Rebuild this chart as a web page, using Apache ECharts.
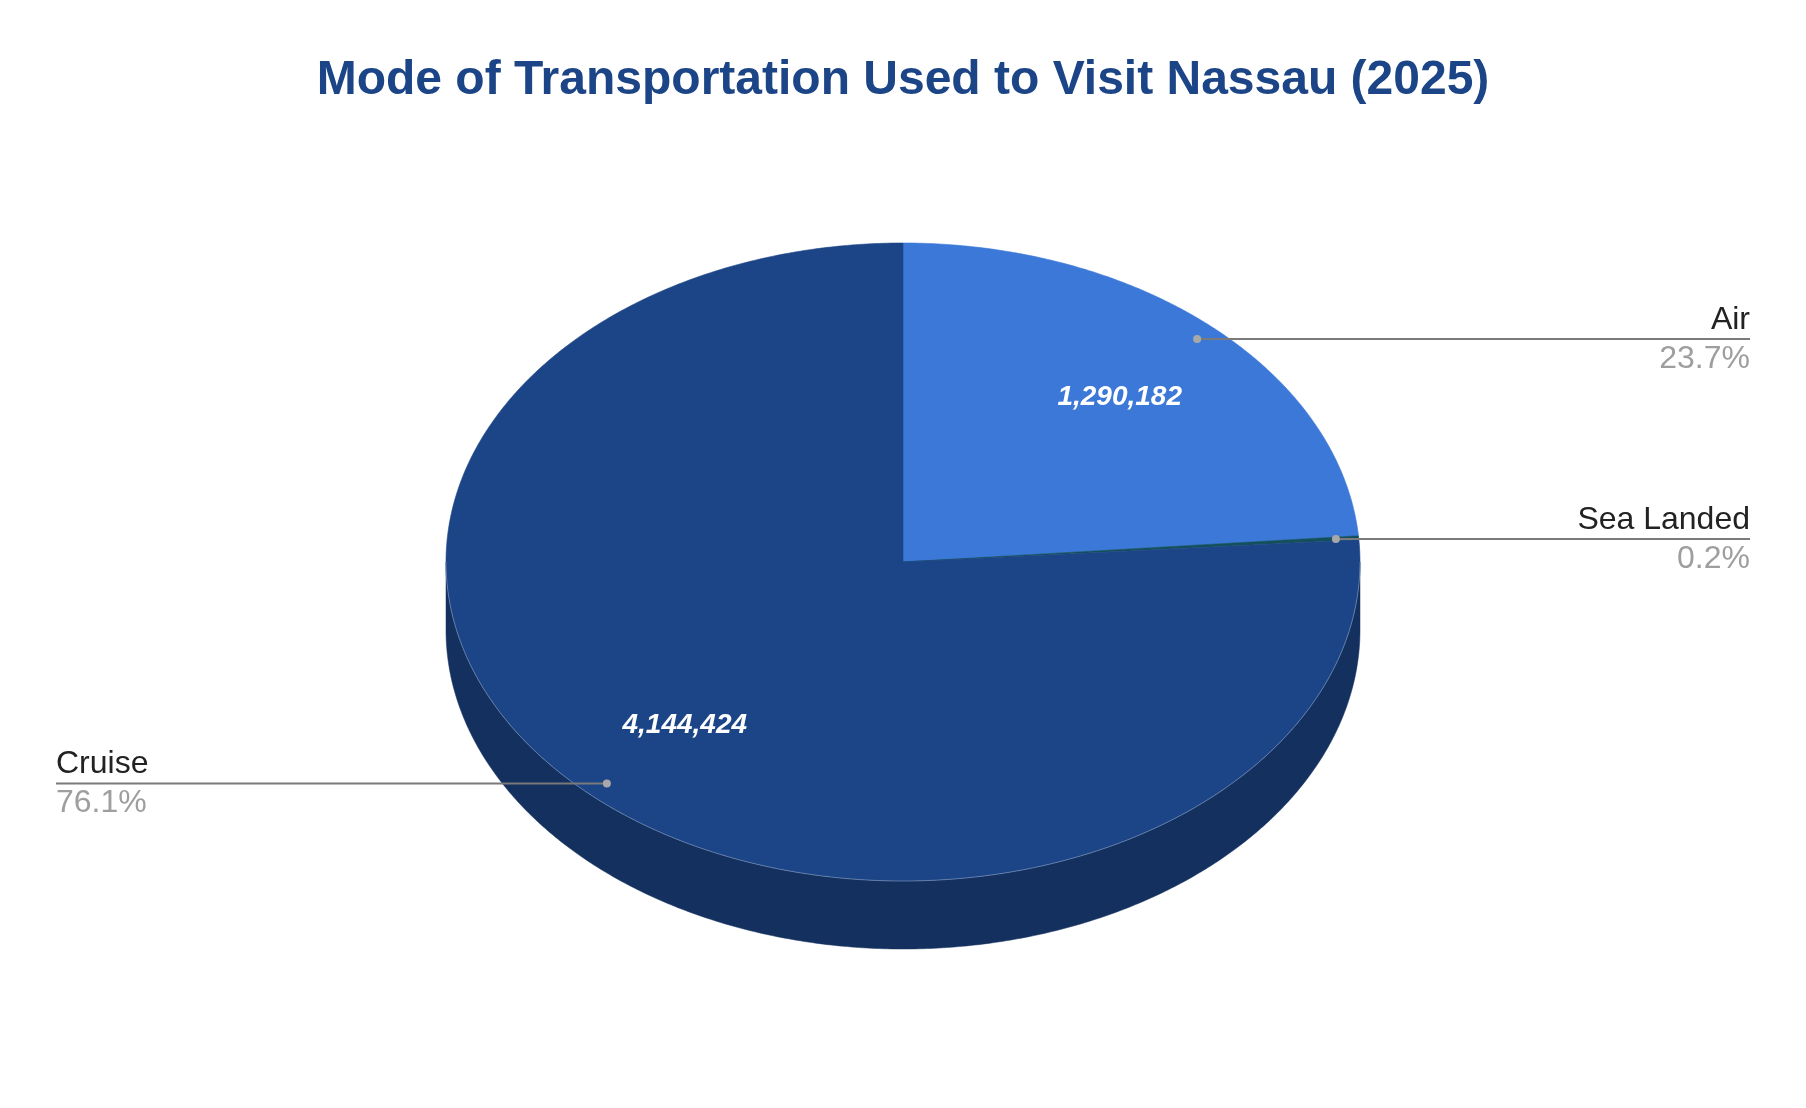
<!DOCTYPE html>
<html>
<head>
<meta charset="utf-8">
<script src="https://cdn.jsdelivr.net/npm/echarts@6/dist/echarts.min.js"></script>
<style>
  html, body { margin: 0; padding: 0; background: #ffffff; }
  #chart { width: 1806px; height: 1108px; }
</style>
</head>
<body>
<div id="chart"></div>
<script>
// ---- data ----
const categories = ['Air', 'Sea Landed', 'Cruise'];
const visitors = [1290182, 11000, 4144424];
const chartTitle = 'Mode of Transportation Used to Visit Nassau (2025)';

// ---- style / layout ----
const sliceColors = ['#3c78d8', '#134f5c', '#1c4587'];
const FONT = '"Liberation Sans", Arial, sans-serif';
const PIE = { cx: 903, cy: 562, rx: 457, ry: 319, depth: 68 };
const LABEL_RIGHT_X = 1750, LABEL_LEFT_X = 56;

function darken(hex, f) {
  const n = parseInt(hex.slice(1), 16);
  const r = Math.round(((n >> 16) & 255) * f);
  const g = Math.round(((n >> 8) & 255) * f);
  const b = Math.round((n & 255) * f);
  return 'rgb(' + r + ',' + g + ',' + b + ')';
}

function arcPoints(a0, a1, dy) {
  const pts = [];
  const steps = Math.max(2, Math.ceil(Math.abs(a1 - a0) / (Math.PI / 360)));
  for (let k = 0; k <= steps; k++) {
    const a = a0 + (a1 - a0) * k / steps;
    pts.push([PIE.cx + PIE.rx * Math.cos(a), PIE.cy + PIE.ry * Math.sin(a) + dy]);
  }
  return pts;
}

const chart = echarts.init(document.getElementById('chart'), null, { renderer: 'canvas' });

function renderItem(params, api) {
  const i = params.dataIndex;
  const total = visitors.reduce((s, v) => s + v, 0);
  let before = 0;
  for (let k = 0; k < i; k++) before += visitors[k];
  const share = visitors[i] / total;
  const start = -Math.PI / 2 + 2 * Math.PI * before / total;
  const end = start + 2 * Math.PI * share;
  const mid = (start + end) / 2;
  const color = sliceColors[i % sliceColors.length];
  const children = [];

  // side wall (front half only)
  const lo = Math.max(start, 0), hi = Math.min(end, Math.PI);
  if (lo < hi) {
    const topArc = arcPoints(lo, hi, 0);
    const botArc = arcPoints(hi, lo, PIE.depth);
    children.push({
      type: 'polygon', z2: 1,
      shape: { points: topArc.concat(botArc) },
      style: { fill: darken(color, 0.7), stroke: darken(color, 0.7), lineWidth: 0.5 }
    });
    children.push({
      type: 'polyline', z2: 3,
      shape: { points: topArc },
      style: { stroke: 'rgba(255,255,255,0.28)', lineWidth: 1, fill: null }
    });
  }

  // top face
  children.push({
    type: 'polygon', z2: 2,
    shape: { points: [[PIE.cx, PIE.cy]].concat(arcPoints(start, end, 0)) },
    style: { fill: color, stroke: color, lineWidth: 0.6 }
  });

  // inner value label
  if (share > 0.05) {
    children.push({
      type: 'text', z2: 10,
      x: PIE.cx + 0.7 * PIE.rx * Math.cos(mid),
      y: PIE.cy + 0.7 * PIE.ry * Math.sin(mid),
      style: {
        text: visitors[i].toLocaleString('en-US'),
        fill: '#ffffff',
        font: 'italic bold 28px ' + FONT,
        align: 'center', verticalAlign: 'middle'
      }
    });
  }

  // outer label with leader line
  const dx = PIE.cx + 0.95 * PIE.rx * Math.cos(mid);
  const dy = PIE.cy + 0.95 * PIE.ry * Math.sin(mid);
  const right = Math.cos(mid) >= 0;
  const ex = right ? LABEL_RIGHT_X : LABEL_LEFT_X;
  children.push({
    type: 'line', z2: 11,
    shape: { x1: dx, y1: dy, x2: ex, y2: dy },
    style: { stroke: '#7a7a7a', lineWidth: 2 }
  });
  children.push({
    type: 'circle', z2: 12,
    shape: { cx: dx, cy: dy, r: 4 },
    style: { fill: '#a8a8a8' }
  });
  children.push({
    type: 'text', z2: 12,
    x: ex, y: dy - 3,
    style: {
      text: categories[i], fill: '#222222',
      font: '32px ' + FONT,
      align: right ? 'right' : 'left', verticalAlign: 'bottom'
    }
  });
  children.push({
    type: 'text', z2: 12,
    x: ex, y: dy + 4,
    style: {
      text: (share * 100).toFixed(1) + '%', fill: '#9e9e9e',
      font: '32px ' + FONT,
      align: right ? 'right' : 'left', verticalAlign: 'top'
    }
  });

  return { type: 'group', children: children };
}

chart.setOption({
  animation: false,
  backgroundColor: '#ffffff',
  title: {
    text: chartTitle,
    left: 'center',
    top: 52,
    textStyle: { fontFamily: FONT, fontSize: 48, fontWeight: 'bold', color: '#1c4587' }
  },
  series: [{
    type: 'custom',
    coordinateSystem: 'none',
    renderItem: renderItem,
    data: categories.map((c, i) => ({ name: c, value: visitors[i] }))
  }]
});
</script>
</body>
</html>
